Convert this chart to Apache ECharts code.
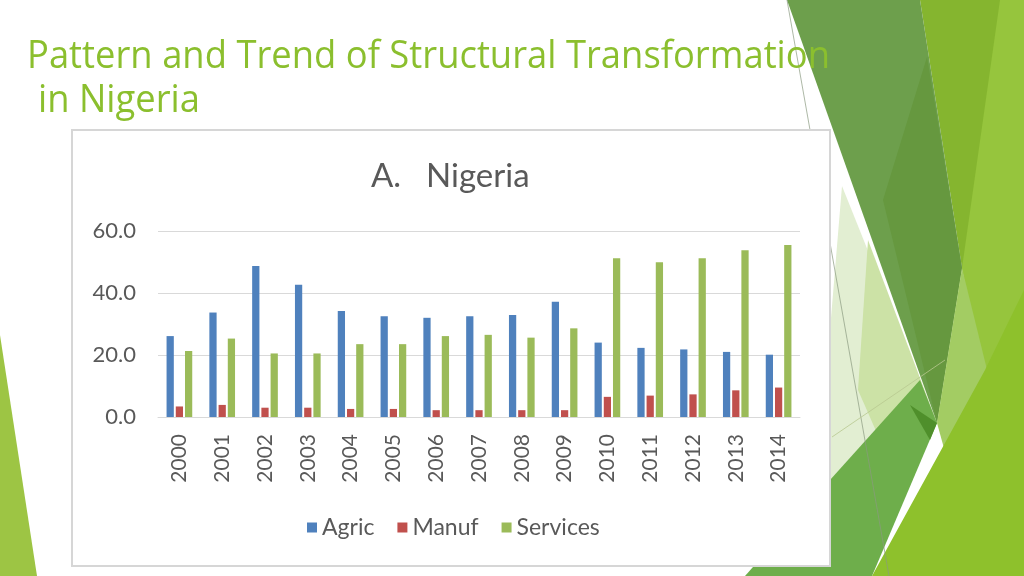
<!DOCTYPE html>
<html>
<head>
<meta charset="utf-8">
<script src="https://cdn.jsdelivr.net/npm/echarts@6/dist/echarts.min.js"></script>
<style>
html,body{margin:0;padding:0;background:#fff;}
#c{width:1024px;height:576px;}
</style>
</head>
<body>
<div id="c"></div>
<script>
const categories = ['2000','2001','2002','2003','2004','2005','2006','2007','2008','2009','2010','2011','2012','2013','2014'];
const agric    = [26.1,33.7,48.7,42.7,34.2,32.5,32.0,32.5,32.9,37.2,24.0,22.3,21.8,21.0,20.1];
const manuf    = [3.4,3.9,3.0,3.0,2.6,2.6,2.2,2.2,2.2,2.2,6.5,6.9,7.3,8.6,9.5];
const services = [21.3,25.3,20.5,20.5,23.5,23.5,26.1,26.5,25.6,28.6,51.2,49.9,51.2,53.8,55.5];
const seriesNames = ['Agric','Manuf','Services'];
const chartTitle = 'A.\u2002 Nigeria';
const slideTitle1 = 'Pattern and Trend of Structural Transformation';
const slideTitle2 = 'in Nigeria';

const titleFont = '39px "Open Sans"';
const mctx = document.createElement('canvas').getContext('2d');
mctx.font = titleFont;
const tw = mctx.measureText(slideTitle1).width;
const sx = 803 / tw;

function poly(points, fill, z) {
  return { type: 'polygon', z: z, silent: true, shape: { points: points }, style: { fill: fill } };
}

const bg = [
  poly([[0,335],[37,576],[0,576]], '#9DC544', -30),
  poly([[920,0],[1024,0],[1024,576],[962,268]], '#85B52F', -30),
  poly([[1000,0],[1024,0],[1024,576],[962,268]], '#96C53D', -29),
  poly([[842,186],[937,423],[830,490],[830,330]], '#E2EED2', -28),
  poly([[868,240],[937,423],[880,440],[858,390]], '#CCE2A6', -27),
  poly([[787,0],[920,0],[962,268],[937,423]], '#6D9F4C', -26),
  poly([[927,57],[962,268],[937,423],[883,200]], '#66983F', -25),
  poly([[962,268],[992,390],[950,470],[937,423]], '#A3CC63', -24),
  poly([[920,380],[937,423],[872,576],[745,576],[830,480]], '#6EAE4B', -23),
  poly([[910,405],[937,423],[930,440]], '#4F8F2B', -22),
  poly([[872,576],[985,370],[1024,290],[1024,576]], '#8EC12C', -21),
  { type: 'line', z: -20, silent: true, shape: { x1: 787, y1: 0, x2: 889, y2: 576 }, style: { stroke: '#8a9a80', lineWidth: 1, opacity: 0.7 } },
  { type: 'line', z: -20, silent: true, shape: { x1: 832, y1: 437, x2: 945, y2: 360 }, style: { stroke: '#b8c890', lineWidth: 1, opacity: 0.8 } },
  { type: 'rect', z: -15, silent: true, shape: { x: 72, y: 130, width: 758, height: 436 }, style: { fill: '#ffffff', stroke: '#D6D6D6', lineWidth: 2 } },
  { type: 'text', z: 5, silent: true, x: 27, y: 57, scaleX: sx, style: { text: slideTitle1, font: titleFont, fill: '#8BBF2E', verticalAlign: 'middle', align: 'left' } },
  { type: 'text', z: 5, silent: true, x: 38, y: 101, scaleX: sx, style: { text: slideTitle2, font: titleFont, fill: '#8BBF2E', verticalAlign: 'middle', align: 'left' } }
];

const chart = echarts.init(document.getElementById('c'), null, { renderer: 'canvas' });
chart.setOption({
  animation: false,
  backgroundColor: '#ffffff',
  graphic: { elements: bg },
  title: {
    text: chartTitle, left: 366, top: 155,
    textStyle: { fontFamily: 'Lato', fontSize: 33, fontWeight: 'normal', color: '#595959' }
  },
  legend: {
    data: seriesNames, left: 302, top: 511, icon: 'rect', itemWidth: 10, itemHeight: 10, itemGap: 23,
    textStyle: { fontFamily: 'Lato', fontSize: 23, color: '#595959' }
  },
  grid: { left: 158, right: 224, top: 231, bottom: 159, containLabel: false },
  xAxis: {
    type: 'category', data: categories,
    axisLine: { lineStyle: { color: '#D9D9D9', width: 1 } },
    axisTick: { show: false },
    axisLabel: { rotate: 90, margin: 17, fontFamily: 'Lato', fontSize: 21, color: '#595959' }
  },
  yAxis: {
    type: 'value', min: 0, max: 60, interval: 20,
    axisLine: { show: false }, axisTick: { show: false },
    splitLine: { lineStyle: { color: '#D9D9D9', width: 1 } },
    axisLabel: { margin: 22, fontFamily: 'Lato', fontSize: 22, color: '#595959', formatter: v => v.toFixed(1) }
  },
  series: [
    { name: seriesNames[0], type: 'bar', data: agric, itemStyle: { color: '#4F81BD' }, barGap: '27%', barCategoryGap: '40%' },
    { name: seriesNames[1], type: 'bar', data: manuf, itemStyle: { color: '#C0504D' }, barGap: '27%', barCategoryGap: '40%' },
    { name: seriesNames[2], type: 'bar', data: services, itemStyle: { color: '#9BBB59' }, barGap: '27%', barCategoryGap: '40%' }
  ]
});
</script>
</body>
</html>
